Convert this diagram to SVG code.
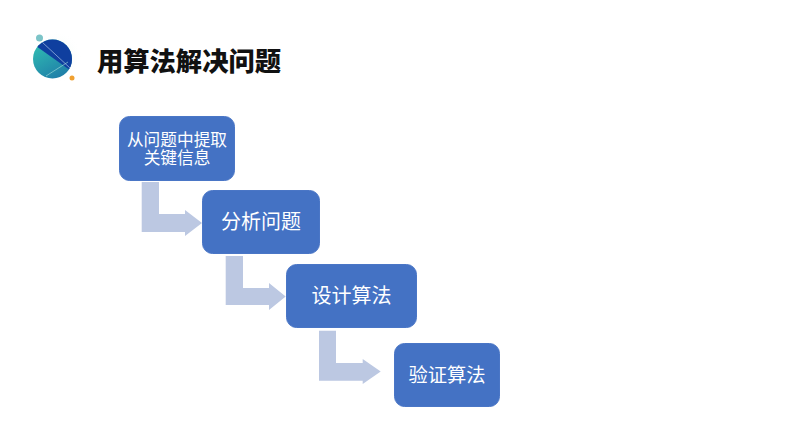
<svg xmlns="http://www.w3.org/2000/svg" width="794" height="447" viewBox="0 0 794 447">
<style>
.box{fill:#4472c4;stroke:#4a76c6;stroke-width:1}
.arrow{fill:#bcc8e2}
text{font-family:"Noto Sans CJK SC","Noto Sans",sans-serif;text-anchor:middle;dominant-baseline:central}
.label{fill:#fff;font-size:20px;font-weight:400}
.small{fill:#fff;font-size:16.7px;font-weight:400}
</style>
<defs>
<linearGradient id="teal" x1="0" y1="0" x2="0.6" y2="1"><stop offset="0" stop-color="#33c6b4"/><stop offset="1" stop-color="#1f7fa8"/></linearGradient>
<clipPath id="disc"><circle cx="52.5" cy="59" r="19.5"/></clipPath>
<radialGradient id="glow"><stop offset="0" stop-color="#dff3ea" stop-opacity=".8"/><stop offset="1" stop-color="#ffffff" stop-opacity="0"/></radialGradient>
</defs>
<rect width="794" height="447" fill="#fff"/>
<g id="logo">
<circle cx="56" cy="57" r="26" fill="url(#glow)"/>
<circle cx="39.5" cy="38" r="3.5" fill="#7cc4c8"/>
<circle cx="72" cy="78" r="2.5" fill="#f0a030"/>
<g clip-path="url(#disc)">
<rect x="32" y="39" width="41" height="40" fill="url(#teal)"/>
<path d="M32 39H73V72L67 68 36 46 32 43Z" fill="#0f3f9f"/>
<path d="M42 42 70 68" stroke="#a9c4e6" stroke-width=".7" fill="none"/>
<path d="M46 76 68 62" stroke="#a7e3dc" stroke-width=".6" fill="none"/>
</g>
</g>
<g id="title"><text x="189" y="59.5" font-size="26.3" font-weight="900" fill="#111">用算法解决问题</text></g>
<g id="connectors">
<path class="arrow" d="M141.7 182H159V214H185V210L202 223 185 236V232H141.7Z"/>
<path class="arrow" d="M225.7 256H243V288H269V283L285.7 296.5 269 310V305H225.7Z"/>
<path class="arrow" d="M319 330.7H336V363H362.7V359L380.7 371.5 362.7 384V380.7H319Z"/>
</g>
<g id="node1"><rect class="box" x="119.5" y="116.5" width="115" height="64" rx="10"/>
<text class="small"><tspan x="177" y="138.5">从问题中提取</tspan><tspan x="177" y="156.5">关键信息</tspan></text></g>
<g id="node2"><rect class="box" x="202.5" y="190.5" width="117" height="63" rx="10"/>
<text class="label" x="261" y="220.5">分析问题</text></g>
<g id="node3"><rect class="box" x="286.5" y="264.5" width="130" height="63" rx="10"/>
<text class="label" x="351.5" y="294.5">设计算法</text></g>
<g id="node4"><rect class="box" x="394.5" y="343.5" width="105" height="63" rx="10"/>
<text class="label" x="447" y="374" style="font-size:19.3px">验证算法</text></g>
</svg>
